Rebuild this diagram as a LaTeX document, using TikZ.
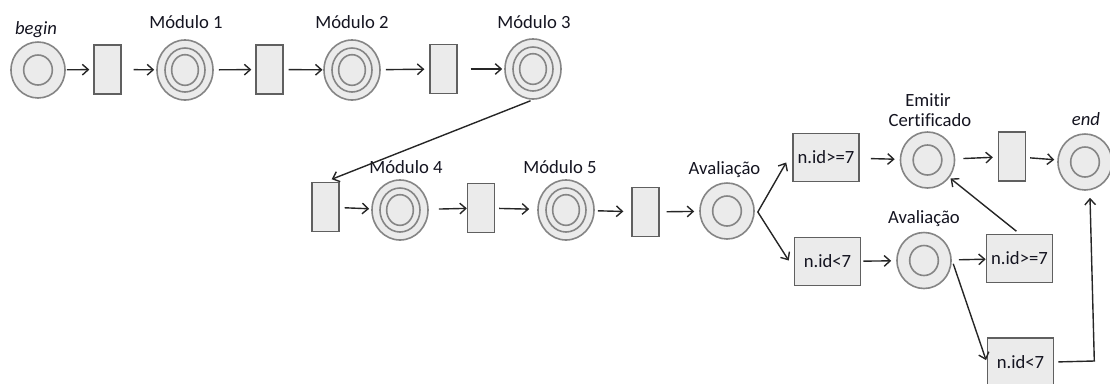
\documentclass[tikz,border=0pt]{standalone}
\usepackage{fontspec}
\setmainfont{Carlito}[Ligatures=NoCommon]
\usetikzlibrary{arrows.meta,shapes.geometric,calc}
\definecolor{fillgray}{HTML}{EBEBEB}
\definecolor{ringgray}{HTML}{858585}
\definecolor{boxgray}{HTML}{606060}
\definecolor{txt}{HTML}{141420}
\definecolor{arrowc}{HTML}{262626}
\begin{document}
\begin{tikzpicture}[x=0.75pt,y=-0.75pt,
  >={Straight Barb[length=4.5pt,width=8pt]},
  ring/.style={ellipse, draw=ringgray, line width=1.2pt, fill=fillgray, inner sep=0pt},
  startend/.style={ring, minimum width=40.5pt, minimum height=42pt,
    path picture={\draw[ringgray,line width=1.2pt] (path picture bounding box.center) ellipse[x radius=10.75pt, y radius=11.25pt];}},
  module/.style={ring, minimum width=42pt, minimum height=45pt,
    path picture={\draw[ringgray,line width=1.2pt] (path picture bounding box.center) ellipse[x radius=15pt,y radius=16.5pt] ellipse[x radius=10pt, y radius=11.5pt];}},
  trans/.style={rectangle, draw=boxgray, line width=1.2pt, fill=fillgray, minimum width=20pt, minimum height=36.75pt, inner sep=0pt},
  cond/.style={trans, minimum width=49.5pt, minimum height=36pt, font=\fontsize{14}{16}\selectfont, text=txt},
  lbl/.style={font=\fontsize{14}{16}\selectfont, text=txt, inner sep=0pt, anchor=base},
  arr/.style={draw=arrowc, line width=1.05pt, ->},
  arrboth/.style={draw=arrowc, line width=1.05pt, <->},
]
\useasboundingbox (0,0) rectangle (1110,383);
% row 1
\node[startend] (begin) at (38,70) {};
\node[trans] (r1) at (107.5,69.5) {};
\node[module] (m1) at (185,70) {};
\node[trans] (r2) at (269.5,69.5) {};
\node[module] (m2) at (352,70) {};
\node[trans] (r3) at (443.5,69) {};
\node[module] (m3) at (533,69) {};
% row 2
\node[trans] (r4) at (325.5,207) {};
\node[module] (m4) at (400,210) {};
\node[trans] (r5) at (481,208) {};
\node[module] (m5) at (566,210) {};
\node[trans] (r6) at (645.5,212) {};
\node[startend] (av1) at (727,211) {};
% right part
\node[cond] (g1) at (826,157.5) {n.id>=7};
\node[startend] (ec) at (927.5,160) {};
\node[trans] (r7) at (1012,156.5) {};
\node[startend] (end) at (1085,162) {};
\node[cond] (l1) at (827.5,261.5) {n.id<7};
\node[startend] (av2) at (924,260.5) {};
\node[cond] (g2) at (1019.5,258.5) {n.id>=7};
\node[cond] (l2) at (1020.5,362) {n.id<7};
% labels
\node[lbl] (tbegin) at (36,34) {\itshape begin};
\node[lbl] (tm1) at (186,28) {Módulo 1};
\node[lbl] (tm2) at (352,28) {Módulo 2};
\node[lbl] (tm3) at (534,28) {Módulo 3};
\node[lbl] (tm4) at (406,173) {Módulo 4};
\node[lbl] (tm5) at (560,173) {Módulo 5};
\node[lbl] (tav1) at (724.5,174) {Avaliação};
\node[lbl] (tem) at (928,106) {Emitir};
\node[lbl] (tce) at (930,126) {Certificado};
\node[lbl] (tend) at (1086,125) {\itshape end};
\node[lbl] (tav2) at (924,223) {Avaliação};
% connectors row 1
\draw[arr, shorten <=0.75pt, shorten >=3pt] (begin) -- (r1);
\draw[arr, shorten <=9pt, shorten >=1.5pt] (r1) -- (m1);
\draw[arr, shorten <=3.75pt, shorten >=3pt] (m1) -- (r2);
\draw[arr, shorten <=3.75pt, shorten >=0.5pt] (r2) -- (m2);
\draw[arr, shorten <=3.75pt, shorten >=3.75pt] (m2) -- (r3);
\draw[arr, shorten <=9.75pt, shorten >=1.5pt] (r3) -- (m3);
\draw[arr, shorten <=2pt, shorten >=5pt] (m3.south) -- (r4.north);
% connectors row 2
\draw[arr, shorten <=3.75pt, shorten >=1.5pt] (r4) -- (m4);
\draw[arr, shorten <=7.5pt] (m4) -- (r5);
\draw[arr, shorten <=3pt, shorten >=6pt] (r5) -- (m5);
\draw[arr, shorten <=2.25pt, shorten >=6pt] (m5) -- (r6);
\draw[arr, shorten <=5.25pt, shorten >=3.75pt] (r6) -- (av1);
\coordinate (split) at ($(av1.east)+(3,1)$);
\draw[arrboth] ($(g1.west)+(-6,5)$) -- (split) -- ($(l1.west)+(-5,-1)$);
% right part connectors
\draw[arr, shorten <=8.25pt, shorten >=3.75pt] (g1) -- (ec);
\draw[arr, shorten <=6pt, shorten >=3.75pt] (ec) -- (r7);
\draw[arr, shorten <=3pt, shorten >=2.25pt] (r7) -- (end);
\draw[arr, shorten <=1.5pt, shorten >=3.75pt] (l1) -- (av2);
\draw[arr, shorten <=5.25pt] (av2) -- (g2);
\draw[arr, shorten <=1pt, shorten >=1.5pt] ($(av2.east)+(1,2)$) -- (l2.west);
\draw[arr, shorten <=3pt, shorten >=1pt] (g2.north) -- (ec);
\coordinate (turn) at ($(l2.east)+(40,-1)$);
\coordinate (endin) at ($(end.south)+(5,7)$);
\draw[arr, shorten <=3pt] (l2.east) -- (turn) -- (endin);
\end{tikzpicture}
\end{document}
